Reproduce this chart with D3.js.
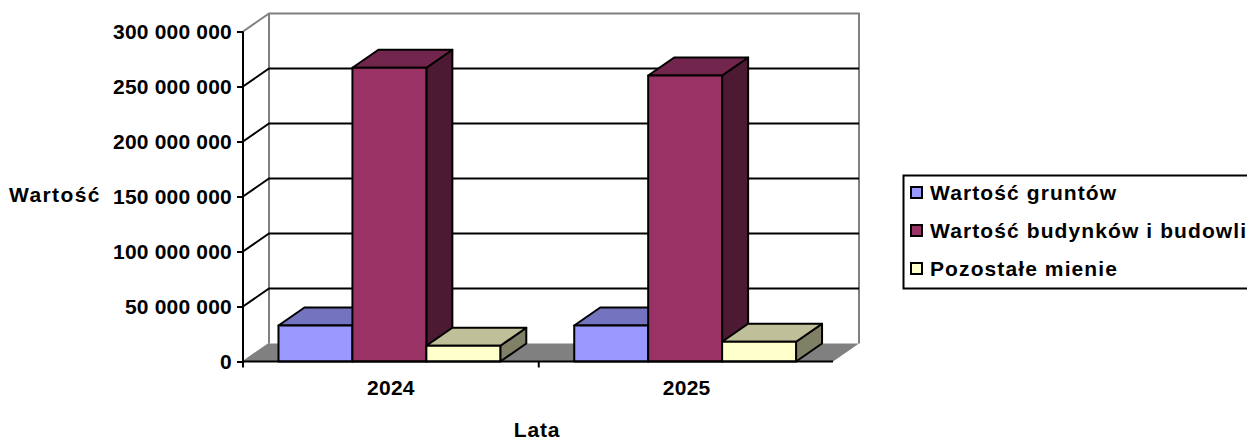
<!DOCTYPE html>
<html>
<head>
<meta charset="utf-8">
<script src="https://cdn.jsdelivr.net/npm/d3@7"></script>
<style>
  html, body { margin: 0; padding: 0; background: #fff; overflow: hidden; }
  svg { display: block; }
  text { font-family: "Liberation Sans", Arial, sans-serif; font-weight: bold; font-size: 21px; fill: #000; }
</style>
</head>
<body>
<svg id="chart"></svg>
<script>
var years = ["2024", "2025"];
var seriesNames = ["Wartość gruntów", "Wartość budynków i budowli", "Pozostałe mienie"];
var seriesColors = ["#9999ff", "#993366", "#ffffcc"];
var grunty = [32700000, 32700000];
var budynki = [267000000, 260000000];
var pozostale = [14300000, 18000000];
var yTicks = [0, 50000000, 100000000, 150000000, 200000000, 250000000, 300000000];

var seriesValues = [grunty, budynki, pozostale];

var width = 1247, height = 440;
var left = 243, right = 833, top_ = 31.5, bottom = 361.5;
// depth of the fake 3d box
var dx = 26, dy = -18;

var svg = d3.select("#chart").attr("width", width).attr("height", height);

var y = d3.scaleLinear().domain([0, 300000000]).range([bottom, top_]);
var x0 = d3.scaleBand().domain(years).range([left, right + 1.5]);
var x1 = d3.scaleBand().domain(d3.range(3)).range([0, x0.bandwidth()]).paddingOuter(0.5).paddingInner(0).align(0.48);

function shade(c, k) {
  var r = d3.rgb(c);
  return d3.rgb(r.r * k, r.g * k, r.b * k).formatHex();
}
function fmt(d) {
  return d3.format(",")(d).replace(/,/g, " ");
}
function pts(a) {
  return a.map(function (p) { return p.join(","); }).join(" ");
}

// floor
svg.append("polygon")
  .attr("points", pts([[left, bottom], [left + dx, bottom + dy], [right + dx, bottom + dy], [right, bottom]]))
  .attr("fill", "#808080");

// walls
svg.append("path")
  .attr("d", "M" + left + "," + y(300000000) + "L" + (left + dx) + "," + (y(300000000) + dy) +
    "H" + (right + dx) + "V" + (bottom + dy))
  .attr("fill", "none").attr("stroke", "#808080").attr("stroke-width", 2);
svg.append("line")
  .attr("x1", left + dx).attr("x2", left + dx)
  .attr("y1", y(300000000) + dy).attr("y2", bottom + dy)
  .attr("stroke", "#808080").attr("stroke-width", 2);
svg.append("line")
  .attr("x1", left).attr("y1", bottom).attr("x2", left + dx).attr("y2", bottom + dy)
  .attr("stroke", "#808080").attr("stroke-width", 1.5);

// gridlines, along the left wall and the back wall
var grid = svg.append("g").selectAll("path")
  .data(yTicks.slice(1, -1))
  .enter().append("path")
  .attr("d", function (d) {
    return "M" + left + "," + y(d) + "L" + (left + dx) + "," + (y(d) + dy) + "H" + (right + dx);
  })
  .attr("fill", "none").attr("stroke", "#000").attr("stroke-width", 2);

// bars
var groups = svg.append("g").selectAll("g")
  .data(years)
  .enter().append("g");

groups.each(function (year, yi) {
  var g = d3.select(this);
  d3.range(3).forEach(function (si) {
    var x = x0(year) + x1(si), w = x1.bandwidth();
    var v = y(seriesValues[si][yi]);
    var color = seriesColors[si];
    var b = g.append("g").attr("stroke", "#000").attr("stroke-width", 2).attr("stroke-linejoin", "round");
    // side
    b.append("polygon")
      .attr("points", pts([[x + w, v], [x + w + dx, v + dy], [x + w + dx, bottom + dy], [x + w, bottom]]))
      .attr("fill", shade(color, 0.5));
    // top
    b.append("polygon")
      .attr("points", pts([[x, v], [x + dx, v + dy], [x + w + dx, v + dy], [x + w, v]]))
      .attr("fill", shade(color, 0.75));
    // front
    b.append("rect")
      .attr("x", x).attr("y", v).attr("width", w).attr("height", bottom - v)
      .attr("fill", color);
  });
});

// axes
var yAxis = d3.axisLeft(y).tickValues(yTicks).tickFormat(fmt).tickSize(6).tickPadding(5);
var yG = svg.append("g").attr("transform", "translate(" + left + ",0)").call(yAxis);
yG.selectAll("line,path").attr("stroke", "#000").attr("stroke-width", 2);
yG.select(".domain").attr("d", "M0," + top_ + "V" + bottom);
yG.selectAll("text").attr("font-family", null).attr("font-size", null).style("letter-spacing", "0.2px");

var xAxis = d3.axisBottom(x0).tickSize(0).tickPadding(19);
var xG = svg.append("g").attr("transform", "translate(0," + bottom + ")").call(xAxis);
xG.select(".domain").attr("d", "M" + left + ",0H" + right).attr("stroke", "#000").attr("stroke-width", 2);
xG.selectAll("text").style("font-size", "21px").style("font-family", null).style("letter-spacing", "0.3px");

// ticks between the categories
svg.append("g").selectAll("line")
  .data(years)
  .enter().append("line")
  .attr("x1", function (d) { return x0(d); })
  .attr("x2", function (d) { return x0(d); })
  .attr("y1", bottom).attr("y2", bottom + 6)
  .attr("stroke", "#000")
  .attr("stroke-width", 2);

// titles
svg.append("text").attr("x", 9).attr("y", 202).text("Wartość").style("letter-spacing", "1.4px");
svg.append("text").attr("x", 537).attr("y", 437).attr("text-anchor", "middle").text("Lata").style("letter-spacing", "0.8px");

// legend
var legend = svg.append("g");
legend.append("rect")
  .attr("x", 903.5).attr("y", 175.5).attr("width", 360).attr("height", 113)
  .attr("fill", "#fff").attr("stroke", "#000").attr("stroke-width", 2);
var rows = legend.selectAll("g.row")
  .data(seriesNames)
  .enter().append("g").attr("class", "row")
  .attr("transform", function (d, i) { return "translate(0," + (193 + i * 38) + ")"; });
rows.append("rect")
  .attr("x", 911).attr("y", -6).attr("width", 11).attr("height", 11)
  .attr("fill", function (d, i) { return seriesColors[i]; })
  .attr("stroke", "#000").attr("stroke-width", 2);
rows.append("text").attr("x", 930).attr("y", 7).text(function (d) { return d; })
  .style("letter-spacing", "1.1px");
</script>
</body>
</html>
